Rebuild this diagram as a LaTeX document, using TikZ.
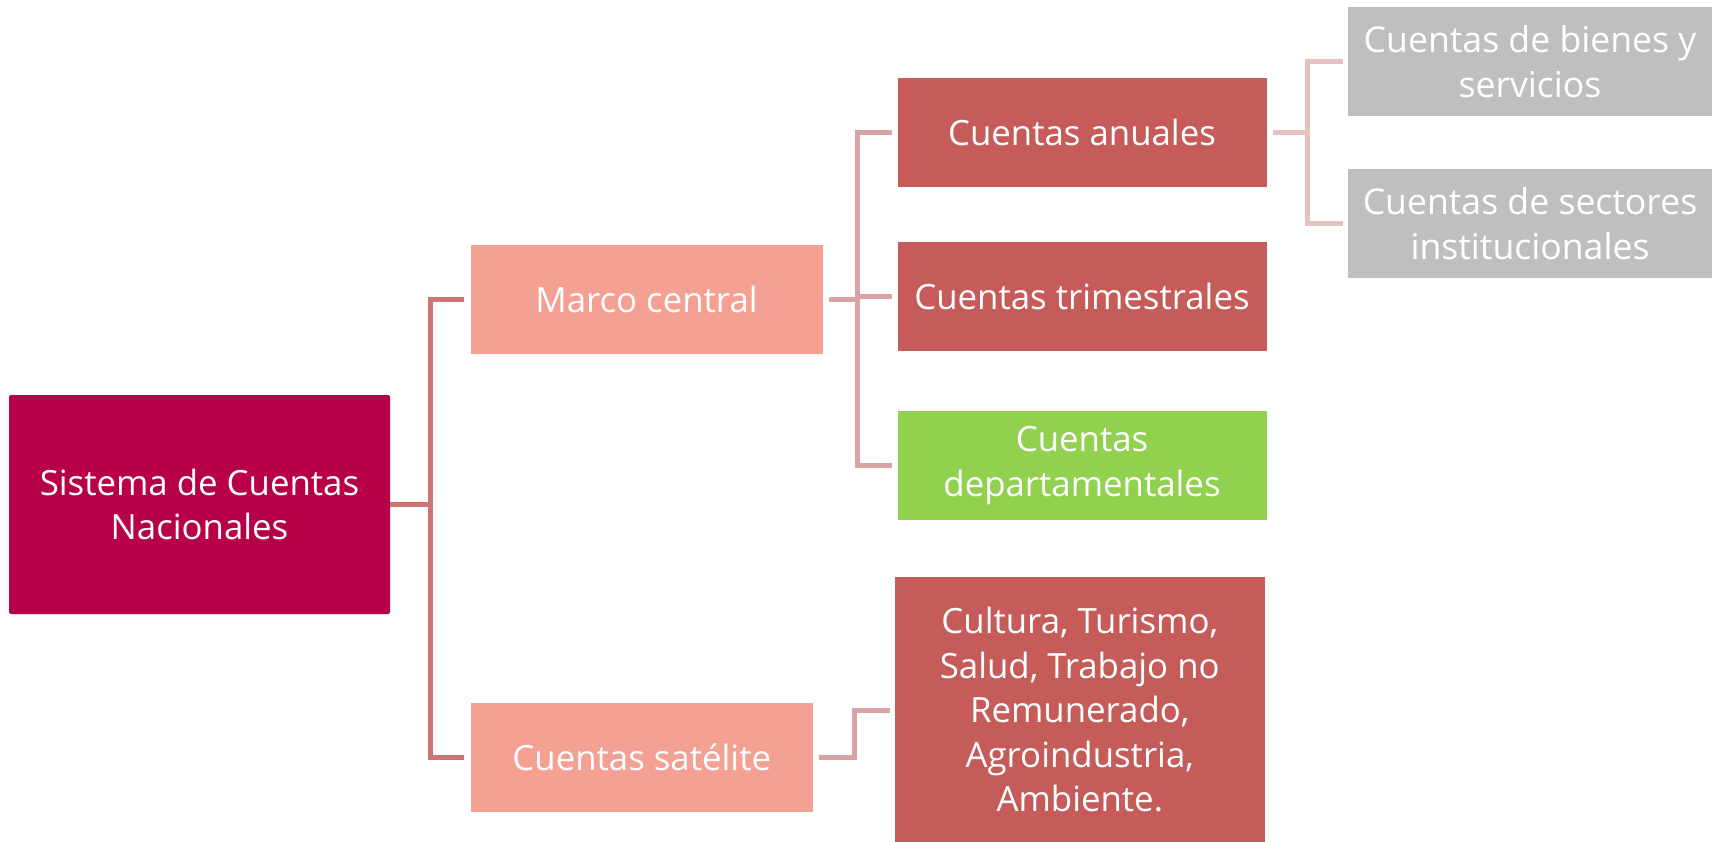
\documentclass[tikz,border=0pt]{standalone}
\usepackage{fontspec}
\setmainfont{Open Sans}
\usetikzlibrary{calc}
\definecolor{rootc}{RGB}{183,0,72}
\definecolor{salmon}{RGB}{244,160,146}
\definecolor{redc}{RGB}{197,92,90}
\definecolor{greenc}{RGB}{146,208,80}
\definecolor{grayc}{RGB}{191,191,191}
\definecolor{lineA}{RGB}{205,117,117}
\definecolor{lineB}{RGB}{217,163,163}
\definecolor{lineC}{RGB}{230,193,193}
\tikzset{
  box/.style={inner sep=0pt, align=center, text=white,
    font=\fontsize{34.8}{44.5}\selectfont},
  graybox/.style={box, fill=grayc, minimum width=364pt, minimum height=109pt,
    font=\fontsize{35.6}{44.5}\selectfont},
  c1/.style={draw=lineA, line width=5pt},
  c2/.style={draw=lineB, line width=5pt},
  c3/.style={draw=lineC, line width=5pt},
}
\begin{document}
\begin{tikzpicture}[x=1pt,y=-1pt]
\useasboundingbox (0,0) rectangle (1712,841);
\node[box, fill=rootc, rounded corners=2pt, minimum width=381pt, minimum height=219pt] (root) at (199.5,504.5) {Sistema de Cuentas\\Nacionales};
\node[box, fill=salmon, minimum width=352pt, minimum height=109pt] (marco) at (646.5,299.5) {Marco central};
\node[box, fill=salmon, minimum width=342.5pt, minimum height=109pt] (sat) at (641.75,757.2) {Cuentas satélite};
\node[box, fill=redc, minimum width=369pt, minimum height=109pt] (anuales) at (1082,132.5) {Cuentas anuales};
\node[box, fill=redc, minimum width=369pt, minimum height=109pt] (tri) at (1082,296.5) {Cuentas trimestrales};
\node[box, fill=greenc, minimum width=369pt, minimum height=109pt] (dept) at (1082,465.5) {Cuentas\\departamentales};
\node[box, fill=redc, minimum width=369.5pt, minimum height=266pt] (cult) at (1079.75,710) {Cultura, Turismo,\\Salud, Trabajo no\\Remunerado,\\Agroindustria,\\Ambiente.};
\node[graybox] (bienes) at (1530,61.7) {Cuentas de bienes y\\servicios};
\node[graybox] (sect) at (1530,223.5) {Cuentas de sectores\\institucionales};
% level 1
\coordinate (j1) at (430,504.5);
\draw[c1] (root.east) -- (j1);
\draw[c1, shorten >=6pt] (j1) |- (marco.west);
\draw[c1, shorten >=6pt] (j1) |- (sat.west);
% level 2
\coordinate (j2) at (857.5,299.5);
\draw[c2, shorten <=6pt] (marco.east) -- (j2);
\draw[c2, shorten >=5pt] (j2) |- (anuales.west);
\draw[c2, shorten >=5pt] (j2) |- (tri.west);
\draw[c2, shorten >=5pt] (j2) |- (dept.west);
\draw[c2, shorten <=6pt, shorten >=5pt] (sat.east) -- ++(41.5,0) |- (cult.west);
% level 3
\coordinate (j3) at (1307,132.5);
\draw[c3, shorten <=6.5pt] (anuales.east) -- (j3);
\draw[c3, shorten >=5pt] (j3) |- (bienes.west);
\draw[c3, shorten >=5pt] (j3) |- (sect.west);
\end{tikzpicture}
\end{document}
